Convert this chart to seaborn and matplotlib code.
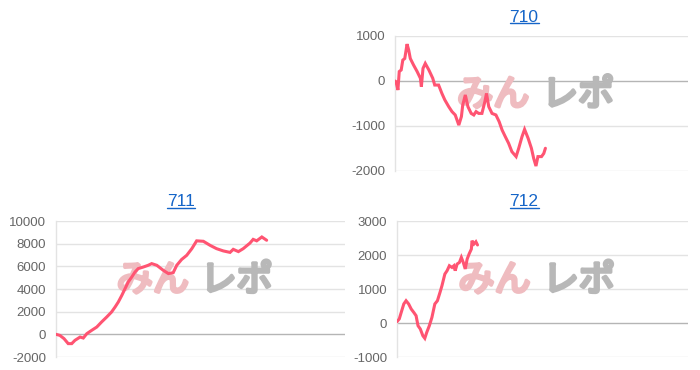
import matplotlib
matplotlib.use("Agg")
import matplotlib.pyplot as plt
import matplotlib.patheffects as pe
import seaborn as sns
import pandas as pd
from matplotlib.lines import Line2D

# ---- data ----
titles = ["710", "711", "712"]

games_710 = [0, 30, 90, 130, 190, 240, 300, 370, 420, 470, 570, 680, 780, 810, 860, 930, 1040, 1160, 1220, 1340,
             1440, 1530, 1650, 1750, 1850, 1960, 2040, 2080, 2160, 2240, 2340, 2420, 2490, 2570, 2670, 2760, 2810,
             2880, 2980, 3100, 3200, 3290, 3390, 3490, 3590, 3720, 3800, 3900, 3980, 4090, 4190, 4260, 4330, 4390,
             4500, 4570, 4620]
diff_710 = [0, -15, -200, 210, 245, 465, 500, 820, 690, 500, 355, 210, 60, -125, 280, 390, 245, 60, -90, -90,
            -275, -420, -570, -680, -755, -980, -790, -535, -310, -570, -720, -755, -680, -720, -720, -460, -275,
            -570, -720, -755, -905, -1090, -1240, -1385, -1570, -1680, -1495, -1240, -1075, -1275, -1495, -1720,
            -1890, -1680, -1680, -1610, -1495]

games_711 = [0, 120, 250, 380, 490, 590, 750, 850, 960, 1110, 1270, 1420, 1580, 1730, 1840, 1940, 2050, 2150,
             2250, 2360, 2460, 2560, 2720, 2870, 2980, 3140, 3340, 3500, 3650, 3760, 3910, 4070, 4230, 4380, 4590,
             4800, 5000, 5210, 5420, 5520, 5680, 5830, 6040, 6140, 6250, 6410, 6560]
diff_711 = [0, -90, -380, -820, -820, -530, -240, -325, 60, 350, 645, 1090, 1530, 1970, 2410, 2850, 3440, 4030,
            4620, 5060, 5500, 5800, 5940, 6090, 6240, 6090, 5650, 5360, 5440, 6090, 6600, 6970, 7560, 8250, 8210,
            7850, 7560, 7360, 7230, 7500, 7300, 7560, 8050, 8380, 8250, 8590, 8300]

games_712 = [0, 70, 130, 210, 280, 360, 440, 520, 590, 650, 720, 800, 860, 920, 1000, 1080, 1170, 1250, 1330,
             1390, 1480, 1550, 1620, 1700, 1760, 1800, 1860, 1930, 1990, 2050, 2110, 2170, 2230, 2300, 2320, 2380,
             2440, 2490]
diff_712 = [40, 120, 310, 560, 655, 560, 410, 310, 215, -80, -175, -375, -450, -275, -80, 165, 560, 655, 900,
            1095, 1440, 1540, 1685, 1635, 1685, 1540, 1735, 1780, 1930, 1780, 1590, 1880, 2030, 2175, 2420, 2325,
            2390, 2295]

yticks_710 = [-2000, -1000, 0, 1000]
yticks_711 = [-2000, 0, 2000, 4000, 6000, 8000, 10000]
yticks_712 = [-1000, 0, 1000, 2000, 3000]
x_max = 9000

# ---- style ----
sns.set_theme(style="white")
plt.rcParams["font.family"] = ["Liberation Sans", "DejaVu Sans"]

LINE = "#ff5472"
GRID = "#e3e3e3"
ZERO = "#b5b5b5"
TICK = "#666666"
LINK = "#1565c8"
WM_PINK = "#efbcc0"
WM_GRAY = "#b8b8b8"

fig = plt.figure(figsize=(7, 3.7), dpi=100)
fig.patch.set_facecolor("white")

W, H = 700.0, 370.0
def rect(l, r, t, b):
    return [l / W, 1 - b / H, (r - l) / W, (b - t) / H]

panels = [
    ("710", games_710, diff_710, yticks_710, rect(395, 688, 36, 171), (524, 17)),
    ("711", games_711, diff_711, yticks_711, rect(56, 345, 221, 357), (181, 202)),
    ("712", games_712, diff_712, yticks_712, rect(397, 688, 221, 357), (524, 202)),
]

title_texts = []
for name, gx, gy, yt, pos, tpos in panels:
    ax = fig.add_axes(pos)
    ax.set_facecolor("white")
    df = pd.DataFrame({"games": gx, "diff": gy})
    sns.lineplot(data=df, x="games", y="diff", ax=ax, color=LINE, linewidth=2.2,
                 zorder=5, solid_joinstyle="miter")
    ax.set_xlim(0, x_max)
    ax.set_ylim(yt[0], yt[-1])
    ax.set_yticks(yt)
    ax.set_yticklabels([str(v) for v in yt])
    ax.set_xticks([])
    ax.set_xlabel("")
    ax.set_ylabel("")
    for v in yt:
        ax.axhline(v, color=ZERO if v == 0 else GRID, linewidth=1.0, zorder=1)
    for s in ["top", "right", "bottom"]:
        ax.spines[s].set_visible(False)
    ax.spines["left"].set_color(GRID)
    ax.spines["left"].set_linewidth(1.0)
    ax.tick_params(axis="y", length=0, pad=7, labelsize=9.5, labelcolor=TICK)
    # watermark
    ax.text(0.335, 0.56, "みん", transform=ax.transAxes, ha="center", va="center",
            fontsize=26, color=WM_PINK, zorder=2,
            family=["Noto Sans CJK JP", "DejaVu Sans"],
            path_effects=[pe.withStroke(linewidth=2.5, foreground=WM_PINK)])
    ax.text(0.625, 0.56, "レポ", transform=ax.transAxes, ha="center", va="center",
            fontsize=26, color=WM_GRAY, zorder=2,
            family=["Noto Sans CJK JP", "DejaVu Sans"],
            path_effects=[pe.withStroke(linewidth=2.5, foreground=WM_GRAY)])
    t = fig.text(tpos[0] / W, 1 - tpos[1] / H, name, ha="center", va="center",
                 fontsize=12.5, color=LINK)
    title_texts.append(t)

# underline the link-style titles
fig.canvas.draw()
r = fig.canvas.get_renderer()
for t in title_texts:
    bb = t.get_window_extent(renderer=r)
    y = bb.y0 + 1.5
    fig.add_artist(Line2D([bb.x0 / W, bb.x1 / W], [y / H, y / H], color=LINK, linewidth=1.0,
                          transform=fig.transFigure))

fig.savefig("out.png", dpi=100, facecolor="white")
